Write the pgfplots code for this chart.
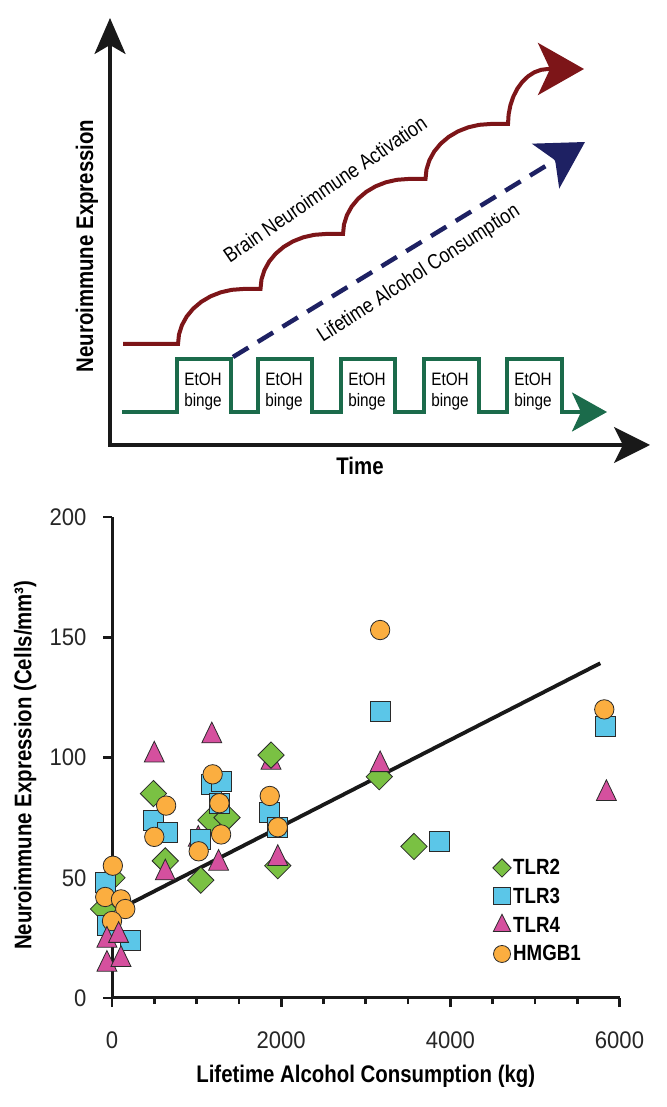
\documentclass[border=0pt]{standalone}
\usepackage{fontspec}
\setmainfont{Liberation Sans}[FakeStretch=0.85]
\newfontfamily\tickfont{Liberation Sans}[FakeStretch=0.92]
\usepackage{pgfplots}
\pgfplotsset{compat=1.18}
\usetikzlibrary{arrows.meta}
\definecolor{cgreen}{HTML}{7AC143}
\definecolor{cblue}{HTML}{5BC6E8}
\definecolor{cmag}{HTML}{D5509E}
\definecolor{corange}{HTML}{FBAE40}
\definecolor{outl}{HTML}{2A2A2A}
\definecolor{dred}{HTML}{7D1518}
\definecolor{navy}{HTML}{1E2163}
\definecolor{dgreen}{HTML}{1B6B4B}
\tikzset{binge/.style={anchor=base, font=\fontsize{18}{18}\selectfont, inner sep=0pt}}
\begin{document}
\begin{tikzpicture}
\path[use as bounding box] (0,0) rectangle (666pt,1107pt);
% ---------------- top schematic (pixel coordinates) ----------------
\begin{axis}[at={(0pt,0pt)}, anchor=south west, scale only axis,
  width=666pt, height=1107pt, xmin=0, xmax=666, ymin=0, ymax=1107,
  y dir=reverse, hide axis, clip=false]
\addplot[black!90, line width=3.3pt, line join=miter,
  {Stealth[length=36pt,width=31pt,inset=9pt]}-{Stealth[length=36pt,width=36pt,inset=9pt]}]
  coordinates {(110,18) (110,445) (650,445)};
% green binge wave
\addplot[dgreen, line width=3.2pt, line join=miter, -{Stealth[length=35pt,width=39pt,inset=9pt]}]
  coordinates {(122,412) (177,412) (177,359) (231,359) (231,412) (258,412) (258,359) (312,359)
  (312,412) (341,412) (341,359) (395,359) (395,412) (424,412) (424,359) (479,359) (479,412)
  (507,412) (507,359) (562,359) (562,412) (607,412)};
% dashed lifetime consumption
\addplot[navy, line width=4.5pt, dash pattern=on 18pt off 11pt, -{Stealth[length=46pt,width=52pt,inset=11pt]}]
  coordinates {(233,357) (585,142)};
% red neuroimmune activation
\addplot[dred, line width=4pt, line join=miter, -{Stealth[length=46pt,width=52pt,inset=12pt]}]
  coordinates {(123,344) (178,344)
  (178.99,334.45) (181.92,325.19) (186.71,316.5) (193.21,308.65) (201.22,301.87) (210.5,296.37) (220.77,292.32) (231.72,289.84) (243,289) (260.5,289)
  (261.49,279.45) (264.42,270.19) (269.21,261.5) (275.71,253.65) (283.72,246.87) (293,241.37) (303.27,237.32) (314.22,234.84) (325.5,234) (343,234)
  (343.99,224.45) (346.92,215.19) (351.71,206.5) (358.21,198.65) (366.22,191.87) (375.5,186.37) (385.77,182.32) (396.72,179.84) (408,179) (425.5,179)
  (426.49,169.45) (429.42,160.19) (434.21,151.5) (440.71,143.65) (448.72,136.87) (458,131.37) (468.27,127.32) (479.22,124.84) (490.5,124) (508,124)
  (508.61,114.45) (510.41,105.19) (513.36,96.5) (517.36,88.65) (522.29,81.87) (528,76.37) (534.32,72.32) (541.06,69.84) (548,69) (584,69)};
% texts
\node[rotate=90, font=\bfseries\fontsize{24}{24}\selectfont] at (axis cs:87,246) {Neuroimmune Expression};
\node[font=\bfseries\fontsize{24}{24}\selectfont] at (axis cs:360,466) {Time};
\node[rotate=34.5, font=\fontsize{21}{21}\selectfont] at (axis cs:325,189) {Brain Neuroimmune Activation};
\node[rotate=33, font=\fontsize{21}{21}\selectfont] at (axis cs:419,274) {Lifetime Alcohol Consumption};
\node[binge] at (axis cs:203,386) {EtOH};
\node[binge] at (axis cs:203,407) {binge};
\node[binge] at (axis cs:284,386) {EtOH};
\node[binge] at (axis cs:284,407) {binge};
\node[binge] at (axis cs:367,386) {EtOH};
\node[binge] at (axis cs:367,407) {binge};
\node[binge] at (axis cs:450,386) {EtOH};
\node[binge] at (axis cs:450,407) {binge};
\node[binge] at (axis cs:533,386) {EtOH};
\node[binge] at (axis cs:533,407) {binge};
\end{axis}
% ---------------- bottom scatter ----------------
\begin{axis}[at={(112pt,109pt)}, anchor=south west, scale only axis,
  width=507.5pt, height=481pt, xmin=0, xmax=6000, ymin=0, ymax=200, clip=false,
  axis lines=left, axis line style={line width=3pt, -, black!90},
  xtick={0,2000,4000,6000}, minor xtick={500,1000,1500,2500,3000,3500,4500,5000,5500},
  ytick={0,50,100,150,200},
  tick align=outside, major tick length=9pt, minor tick length=6pt,
  every tick/.style={black!90, line width=2.7pt},
  scaled x ticks=false, /pgf/number format/1000 sep={},
  /pgf/number format/assume math mode=true,
  tick label style={font=\tickfont\fontsize{24}{24}\selectfont, text=black!85},
  xticklabel style={yshift=-21pt},
  yticklabel style={xshift=-13pt},
  xlabel={Lifetime Alcohol Consumption (kg)},
  ylabel={Neuroimmune Expression (Cells/mm³)},
  label style={font=\bfseries\fontsize{24}{24}\selectfont},
  xlabel style={at={(axis description cs:0.5,-0.162)}, anchor=center},
  ylabel style={at={(axis description cs:-0.171,0.484)}, anchor=center},
  legend style={at={(axis cs:4500,58.5)}, anchor=north west, draw=none, fill=none,
    font=\bfseries\fontsize{22}{22}\selectfont, row sep=7.5pt, inner sep=0pt,
    /tikz/every even column/.append style={column sep=3pt}},
  legend cell align=left,
]
\addplot[black!90, line width=3.8pt, forget plot] coordinates {(100,37.2) (5773,139.2)};
% early triangles (partly hidden)
\addplot[only marks, mark=triangle*, mark size=11.5pt, mark options={yscale=1.2, fill=cmag, draw=outl, line width=0.8pt}, forget plot]
  coordinates {(1020,66) (1880,98)};
% TLR2
\addplot[only marks, mark=square*, mark size=9.3pt, mark options={rotate=45, fill=cgreen, draw=outl, line width=0.8pt}, forget plot]
  coordinates {(0,50) (-100,37) (490,85) (630,57) (1050,49) (1170,74) (1360,75) (1880,101) (1960,55) (3160,92) (3570,63)};
% TLR3
\addplot[only marks, mark=square*, mark size=10pt, mark options={fill=cblue, draw=outl, line width=0.8pt}, forget plot]
  coordinates {(-80,48) (-60,30) (217,24) (490,74) (650,69) (1050,66) (1180,89) (1290,90) (1270,81) (1860,77) (1960,71) (3170,119) (3870,65) (5830,113)};
% HMGB1
\addplot[only marks, mark=*, mark size=9.7pt, mark options={fill=corange, draw=outl, line width=0.8pt}, forget plot]
  coordinates {(10,55) (-80,42) (106,41) (157,37) (0,32) (500,67) (640,80) (1025,61) (1190,93) (1270,81) (1290,68) (1865,84) (1960,71) (3170,153) (5820,120)};
% TLR4
\addplot[only marks, mark=triangle*, mark size=11.5pt, mark options={yscale=1.2, fill=cmag, draw=outl, line width=0.8pt}, forget plot]
  coordinates {(-60,24) (78,26) (-60,14) (106,16) (500,101) (630,52) (1180,109) (1260,56) (1960,58) (3170,97) (5845,85)};
% legend
\addlegendimage{only marks, mark=square*, mark size=6.5pt, mark options={rotate=45, fill=cgreen, draw=outl, line width=0.8pt}}
\addlegendentry{TLR2}
\addlegendimage{only marks, mark=square*, mark size=8.5pt, mark options={fill=cblue, draw=outl, line width=0.8pt}}
\addlegendentry{TLR3}
\addlegendimage{only marks, mark=triangle*, mark size=10pt, mark options={yscale=1.15, fill=cmag, draw=outl, line width=0.8pt}}
\addlegendentry{TLR4}
\addlegendimage{only marks, mark=*, mark size=8.5pt, mark options={fill=corange, draw=outl, line width=0.8pt}}
\addlegendentry{HMGB1}
\end{axis}
\end{tikzpicture}
\end{document}
